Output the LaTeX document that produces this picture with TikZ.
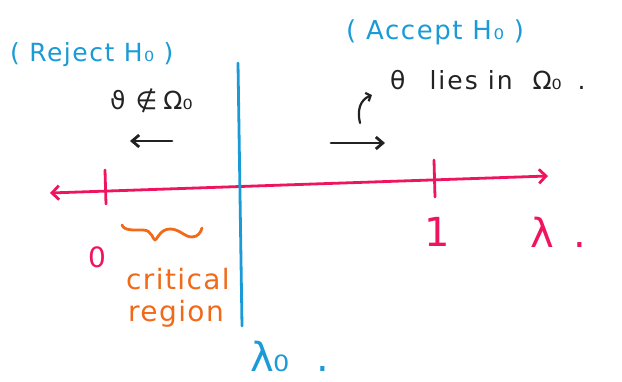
\documentclass[tikz,border=0pt]{standalone}
\usepackage{fontspec}
\setmainfont{DejaVu Sans}
\usetikzlibrary{arrows.meta}
\definecolor{hblue}{HTML}{1A9AD6}
\definecolor{hpink}{HTML}{EE1460}
\definecolor{horange}{HTML}{F06A1A}
\definecolor{hink}{HTML}{222222}
\tikzset{
  lbl/.style={inner sep=0pt, anchor=base west},
  bluetxt/.style={lbl, text=hblue, font=\fontsize{25}{30}\selectfont\addfontfeatures{LetterSpace=6}},
  inktxt/.style={lbl, text=hink, font=\fontsize{25}{30}\selectfont},
  pinktxt/.style={lbl, text=hpink, font=\fontsize{40}{46}\selectfont},
  orangetxt/.style={lbl, text=horange, font=\fontsize{28}{32}\selectfont\addfontfeatures{LetterSpace=5}},
  pen/.style={line width=2.8pt, line cap=round, line join=round},
  tip/.style={-{Straight Barb[length=7pt,width=12pt]}},
}
\begin{document}
\begin{tikzpicture}[x=1pt,y=-1pt]
\useasboundingbox (0,0) rectangle (622,382);
% texts
\node[bluetxt] (rej) at (10,62) {( Reject H₀ )};
\node[bluetxt, font=\fontsize{26}{30}\selectfont\addfontfeatures{LetterSpace=6}] (acc) at (346,40) {( Accept H₀ )};
\node[inktxt] (notin) at (110,110) {ϑ\hspace{10pt}∉\hspace{6pt}Ω₀};
\node[inktxt] (lies) at (390,90) {θ\hspace{24pt}{\addfontfeatures{LetterSpace=8}lies}\hspace{10pt}{\addfontfeatures{LetterSpace=8}in}\hspace{20pt}Ω₀\hspace{16pt}.};
\node[orangetxt] (crit) at (126,290) {critical};
\node[orangetxt] (reg) at (128,322) {region};
\node[pinktxt, font=\fontsize{28}{32}\selectfont] (zero) at (88,268) {0};
\node[pinktxt] (one) at (424,247) {1};
\node[pinktxt] (lam) at (530,248) {λ\hspace{20pt}.};
\node[lbl, text=hblue, font=\fontsize{40}{46}\selectfont] (lam0) at (250,372) {λ₀\hspace{27pt}.};
% axis
\coordinate (axL) at (50,193);
\coordinate (axR) at (548,176);
\draw[pen, hpink, {Straight Barb[length=7pt,width=14pt]}-{Straight Barb[length=7pt,width=14pt]}] (axL) -- (axR);
\coordinate (t0a) at (105,170); \coordinate (t0b) at (106,204);
\coordinate (t1a) at (434,160); \coordinate (t1b) at (435,197);
\draw[pen, hpink] (t0a) -- (t0b);
\draw[pen, hpink] (t1a) -- (t1b);
% blue divider
\coordinate (vtop) at (238,63);
\coordinate (vbot) at (242,326);
\draw[pen, hblue] (vtop) -- (vbot);
% arrows
\coordinate (la1) at (172,141); \coordinate (la2) at (130,141);
\draw[pen, hink, tip] (la1) -- (la2);
\coordinate (ra1) at (331,143); \coordinate (ra2) at (385,143);
\draw[pen, hink, tip] (ra1) -- (ra2);
\coordinate (ca1) at (360,123); \coordinate (ca2) at (372,95);
\draw[pen, line width=2.2pt, hink, -{Straight Barb[length=4pt,width=9pt]}] (ca1) .. controls (357,110) and (360,100) .. (ca2);
% orange squiggle
\coordinate (sq1) at (122,225); \coordinate (sq2) at (202,228);
\draw[pen, horange] (sq1) .. controls (124,231) and (135,230) .. (143,230)
  .. controls (152,230) and (153,240) .. (155,240)
  .. controls (157,240) and (160,229) .. (170,229)
  .. controls (180,229) and (184,237) .. (192,237)
  .. controls (198,237) and (201,232) .. (sq2);
\end{tikzpicture}
\end{document}
